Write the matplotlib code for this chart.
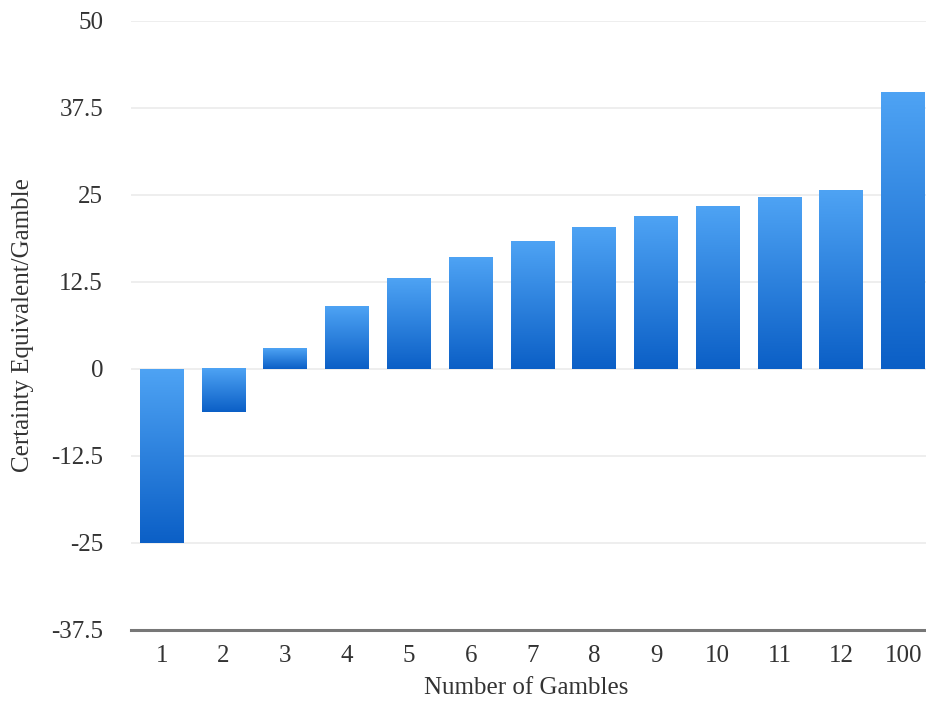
import numpy as np
import matplotlib
matplotlib.use('Agg')
import matplotlib.pyplot as plt
from matplotlib.colors import LinearSegmentedColormap

plt.rcParams['font.family'] = ['Liberation Serif', 'DejaVu Serif']
plt.rcParams['font.size'] = 18

# data
gambles = ['1', '2', '3', '4', '5', '6', '7', '8', '9', '10', '11', '12', '100']
cert_equiv = [-25.0, -6.2, 3.0, 9.0, 13.0, 16.1, 18.4, 20.3, 21.9, 23.4, 24.6, 25.7, 39.8]
yticks = [-37.5, -25, -12.5, 0, 12.5, 25, 37.5, 50]
ytick_labels = ['-37.5', '-25', '-12.5', '0', '12.5', '25', '37.5', '50']

fig = plt.figure(figsize=(9.26, 7.04), dpi=100)
ax = fig.add_axes([0.1413, 0.1058, 0.8674, 0.8644])

x = np.arange(len(gambles))
bars = ax.bar(x, cert_equiv, width=0.71, color='none', edgecolor='none', zorder=3)

# vertical gradient in every bar, light on top, dark at the bottom
cmap = LinearSegmentedColormap.from_list('blues', ['#0b5fc6', '#4ea3f4'])
grad = np.linspace(0, 1, 256).reshape(-1, 1)
for b in bars:
    x0, y0 = b.get_x(), b.get_y()
    w, h = b.get_width(), b.get_height()
    lo, hi = min(y0, y0 + h), max(y0, y0 + h)
    ax.imshow(grad, cmap=cmap, origin='lower', aspect='auto',
              extent=[x0, x0 + w, lo, hi], zorder=3, interpolation='bilinear')

ax.set_xlim(-0.5, len(gambles) - 0.5)
ax.set_ylim(-37.5, 50)
ax.set_xticks(x)
ax.set_xticklabels(gambles)
ax.set_yticks(yticks)
ax.set_yticklabels(ytick_labels)

ax.grid(axis='y', color='#ebebeb', linewidth=1.2, zorder=0)
ax.set_axisbelow(True)
for s in ['top', 'right', 'left']:
    ax.spines[s].set_visible(False)
ax.spines['bottom'].set_color('#777777')
ax.spines['bottom'].set_linewidth(2.2)
ax.spines['bottom'].set_zorder(4)

ax.tick_params(axis='y', length=0, pad=20, colors='#333333')
ax.tick_params(axis='x', length=0, pad=11, colors='#333333')

ax.set_xlabel('Number of Gambles', color='#333333')
ax.set_ylabel('Certainty Equivalent/Gamble', color='#333333', labelpad=12)
ax.xaxis.set_label_coords(0.492, -0.078)

fig.savefig('out.png', dpi=100)
